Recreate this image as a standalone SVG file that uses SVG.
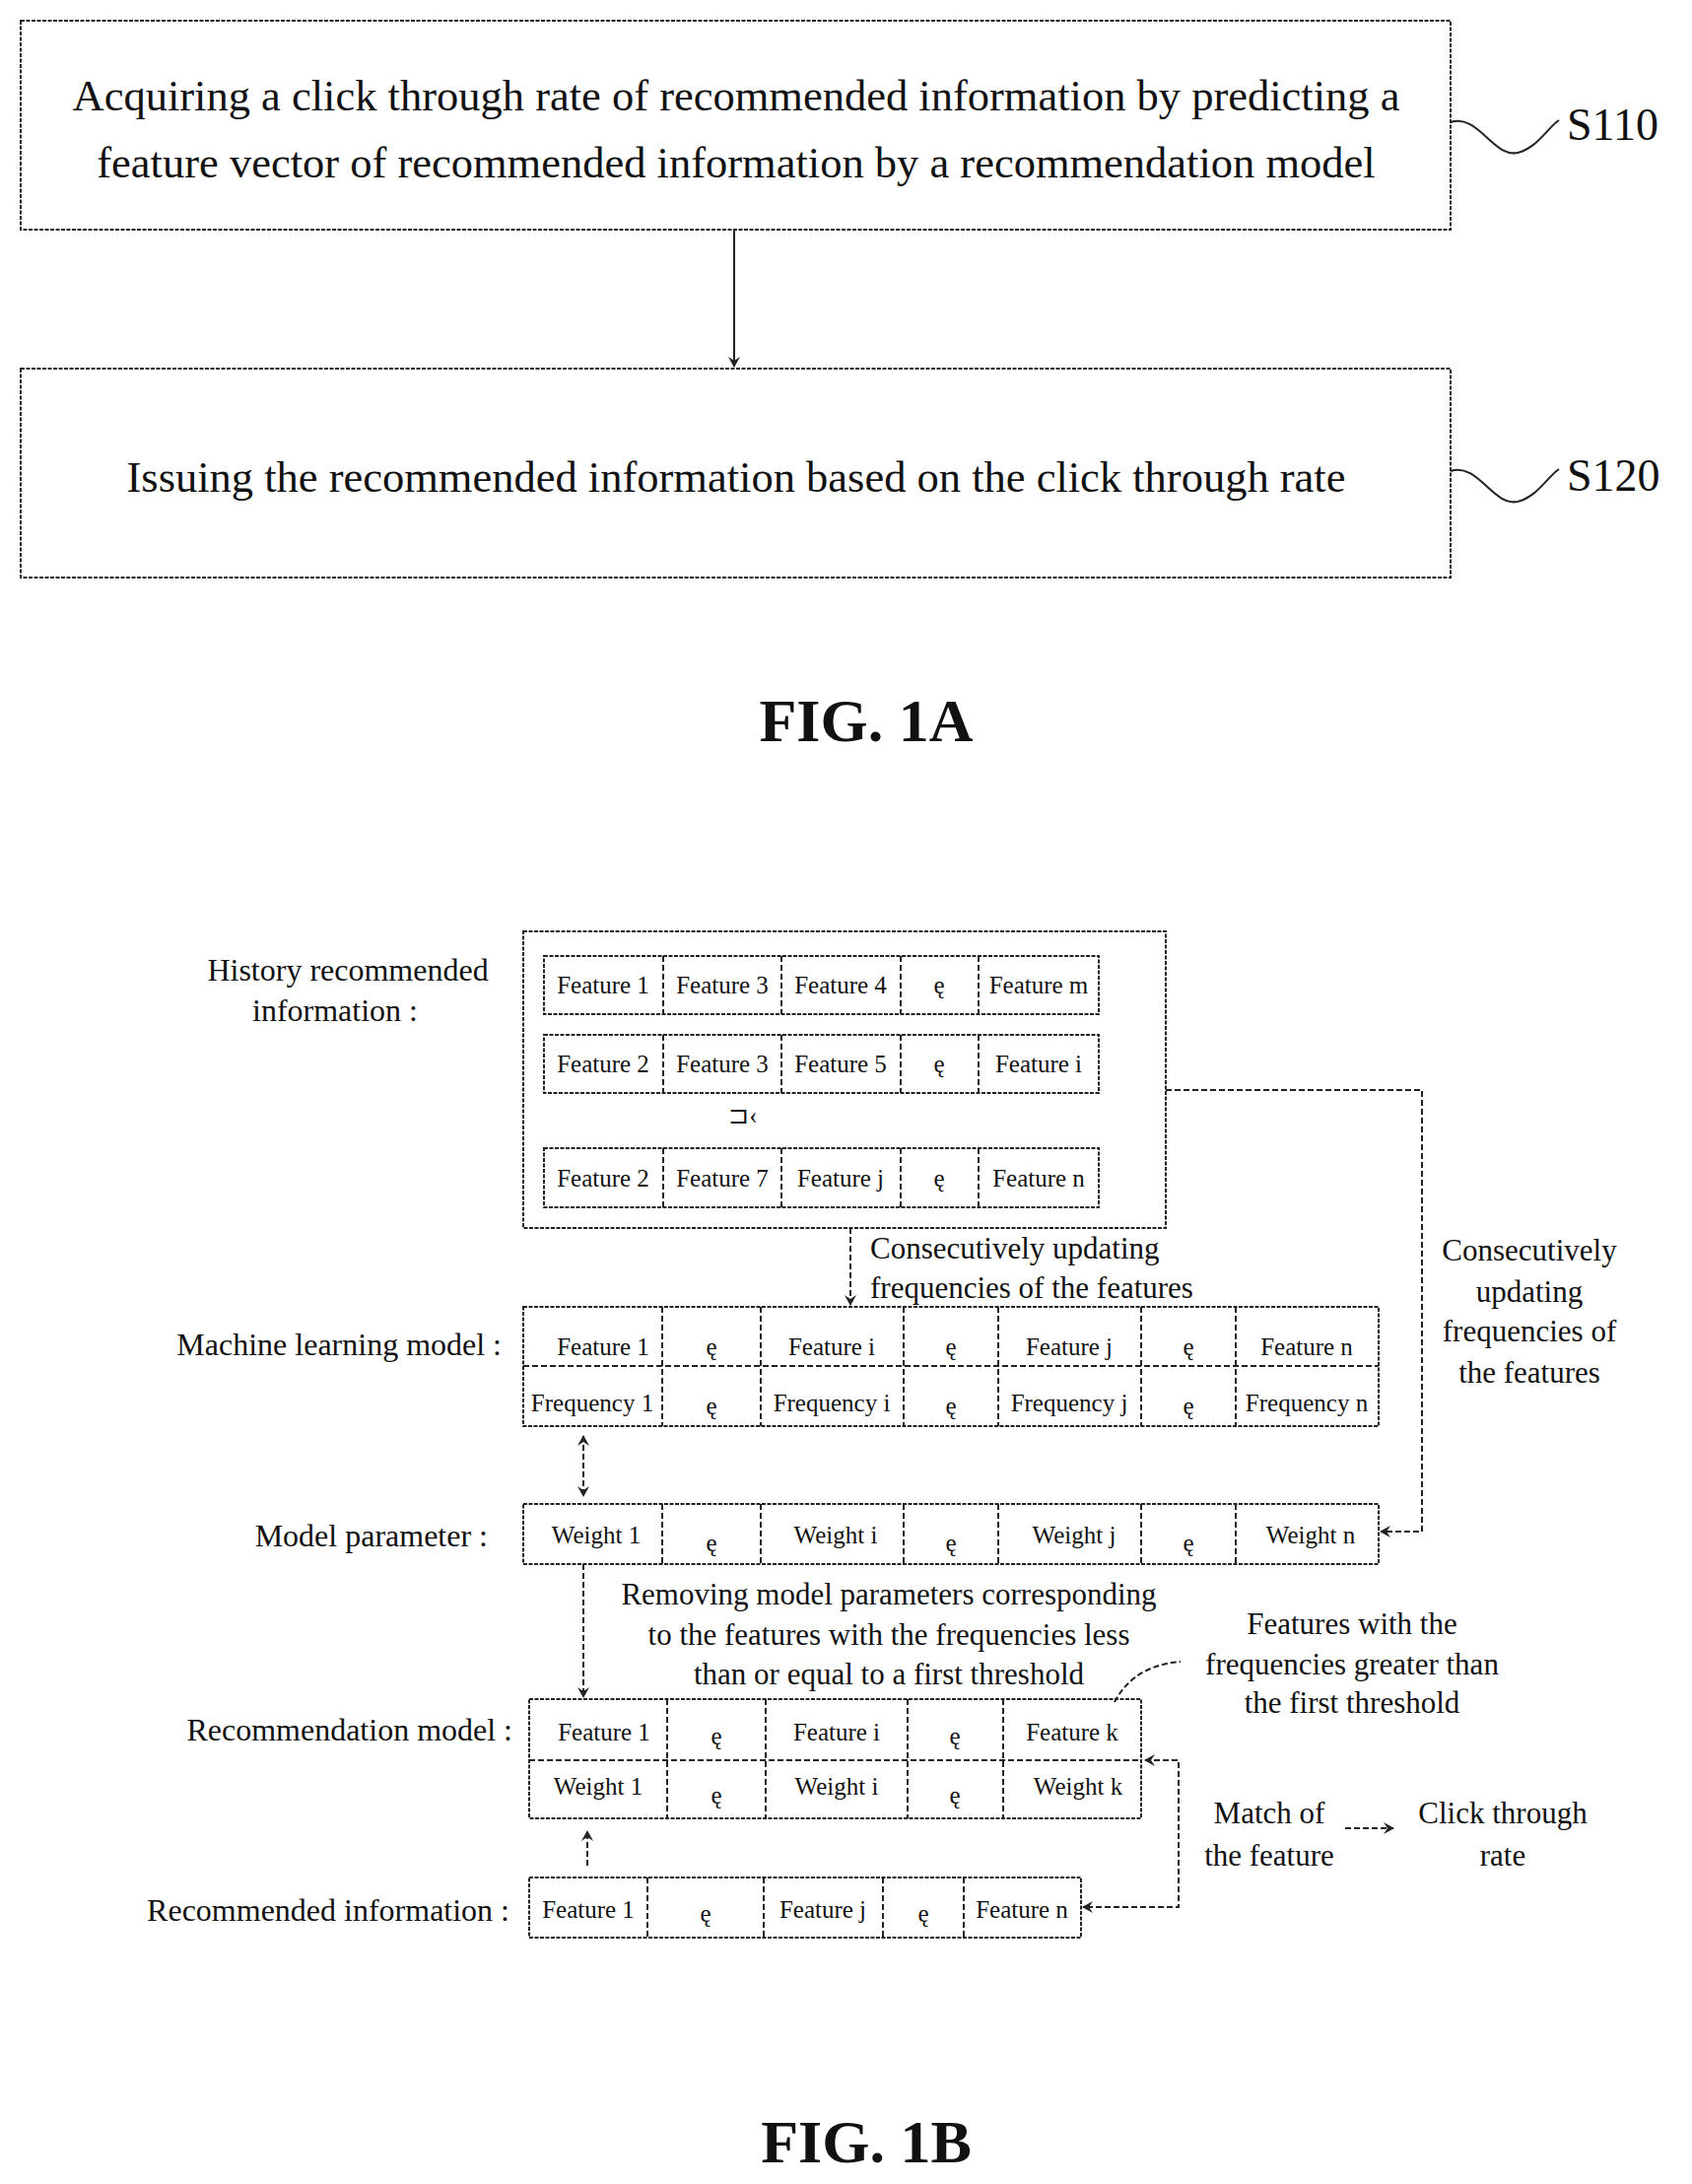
<svg xmlns="http://www.w3.org/2000/svg" width="1717" height="2216" viewBox="0 0 1717 2216">
<style>
text{font-family:"Liberation Serif","Times New Roman",serif;fill:#111}
.b{fill:#fff;stroke:#222;stroke-width:2;stroke-dasharray:4,1.5}
.l{fill:none;stroke:#222;stroke-width:2;stroke-dasharray:6,3}
.s{fill:none;stroke:#222;stroke-width:2}
.c{font-size:25px;text-anchor:middle}
.lb{font-size:32px;text-anchor:end}
.t{font-size:31px;text-anchor:middle}
.big{font-size:44.5px;text-anchor:middle}
.fig{font-size:62px;font-weight:bold;text-anchor:middle}
</style>
<defs>
<marker id="a" markerWidth="12" markerHeight="12" refX="10" refY="6" orient="auto-start-reverse" markerUnits="userSpaceOnUse"><path d="M0,0 L11,6 L0,12 L4,6 z" fill="#222"/></marker>
</defs>
<g id="s110">
<rect class="b" x="21" y="21" width="1451" height="212"/>
<text class="big" x="747" y="112">Acquiring a click through rate of recommended information by predicting a</text>
<text class="big" x="747" y="180">feature vector of recommended information by a recommendation model</text>
<path class="s" d="M1472,124 C1500,115 1515,160 1540,155 C1560,150 1570,130 1582,122"/>
<text x="1590" y="142" style="font-size:46px">S110</text>
</g>
<g id="s120">
<rect class="b" x="21" y="374" width="1451" height="212"/>
<text class="big" x="747" y="499">Issuing the recommended information based on the click through rate</text>
<path class="s" d="M1472,478 C1500,469 1515,514 1540,509 C1560,504 1570,484 1582,476"/>
<text x="1590" y="498" style="font-size:46px">S120</text>
</g>
<text class="fig" x="879" y="752">FIG. 1A</text>
<g id="history">
<text class="t" x="353" y="995" style="font-size:32px">History recommended</text>
<text class="t" x="340" y="1036" style="font-size:32px">information :</text>
<rect class="b" x="531" y="945" width="652" height="301"/>
<rect class="b" x="552" y="970" width="563" height="59"/>
<path class="l" d="M673,970V1029M793,970V1029M914,970V1029M993,970V1029"/>
<text class="c" x="612" y="1008">Feature 1</text><text class="c" x="733" y="1008">Feature 3</text><text class="c" x="853" y="1008">Feature 4</text><text class="c" x="953" y="1008">ę</text><text class="c" x="1054" y="1008">Feature m</text>
<rect class="b" x="552" y="1050" width="563" height="59"/>
<path class="l" d="M673,1050V1109M793,1050V1109M914,1050V1109M993,1050V1109"/>
<text class="c" x="612" y="1088">Feature 2</text><text class="c" x="733" y="1088">Feature 3</text><text class="c" x="853" y="1088">Feature 5</text><text class="c" x="953" y="1088">ę</text><text class="c" x="1054" y="1088">Feature i</text>
<text class="c" x="754" y="1140">⊐‹</text>
<rect class="b" x="552" y="1165" width="563" height="60"/>
<path class="l" d="M673,1165V1225M793,1165V1225M914,1165V1225M993,1165V1225"/>
<text class="c" x="612" y="1204">Feature 2</text><text class="c" x="733" y="1204">Feature 7</text><text class="c" x="853" y="1204">Feature j</text><text class="c" x="953" y="1204">ę</text><text class="c" x="1054" y="1204">Feature n</text>
</g>
<g id="ml">
<text class="lb" x="509" y="1375">Machine learning model :</text>
<rect class="b" x="531" y="1326" width="868" height="121"/>
<path class="l" d="M531,1386H1399M672,1326V1447M772,1326V1447M917,1326V1447M1013,1326V1447M1158,1326V1447M1254,1326V1447"/>
<text class="c" x="612" y="1375">Feature 1</text><text class="c" x="722" y="1375">ę</text><text class="c" x="844" y="1375">Feature i</text><text class="c" x="965" y="1375">ę</text><text class="c" x="1085" y="1375">Feature j</text><text class="c" x="1206" y="1375">ę</text><text class="c" x="1326" y="1375">Feature n</text>
<text class="c" x="601" y="1432">Frequency 1</text><text class="c" x="722" y="1435">ę</text><text class="c" x="844" y="1432">Frequency i</text><text class="c" x="965" y="1435">ę</text><text class="c" x="1085" y="1432">Frequency j</text><text class="c" x="1206" y="1435">ę</text><text class="c" x="1326" y="1432">Frequency n</text>
</g>
<g id="param">
<text class="lb" x="495" y="1569">Model parameter :</text>
<rect class="b" x="531" y="1526" width="868" height="61"/>
<path class="l" d="M672,1526V1587M772,1526V1587M917,1526V1587M1013,1526V1587M1158,1526V1587M1254,1526V1587"/>
<text class="c" x="605" y="1566">Weight 1</text><text class="c" x="722" y="1574">ę</text><text class="c" x="848" y="1566">Weight i</text><text class="c" x="965" y="1574">ę</text><text class="c" x="1090" y="1566">Weight j</text><text class="c" x="1206" y="1574">ę</text><text class="c" x="1330" y="1566">Weight n</text>
</g>
<g id="recmodel">
<text class="lb" x="520" y="1766">Recommendation model :</text>
<rect class="b" x="537" y="1724" width="621" height="121"/>
<path class="l" d="M537,1786H1158M677,1724V1845M777,1724V1845M921,1724V1845M1018,1724V1845"/>
<text class="c" x="613" y="1766">Feature 1</text><text class="c" x="727" y="1770">ę</text><text class="c" x="849" y="1766">Feature i</text><text class="c" x="969" y="1770">ę</text><text class="c" x="1088" y="1766">Feature k</text>
<text class="c" x="607" y="1821">Weight 1</text><text class="c" x="727" y="1830">ę</text><text class="c" x="849" y="1821">Weight i</text><text class="c" x="969" y="1830">ę</text><text class="c" x="1094" y="1821">Weight k</text>
</g>
<g id="recinfo">
<text class="lb" x="517" y="1949">Recommended information :</text>
<rect class="b" x="537" y="1905" width="560" height="61"/>
<path class="l" d="M657,1905V1966M775,1905V1966M896,1905V1966M978,1905V1966"/>
<text class="c" x="597" y="1946">Feature 1</text><text class="c" x="716" y="1950">ę</text><text class="c" x="835" y="1946">Feature j</text><text class="c" x="937" y="1950">ę</text><text class="c" x="1037" y="1946">Feature n</text>
</g>
<g id="labels">
<text class="t" x="883" y="1277" style="text-anchor:start">Consecutively updating</text>
<text class="t" x="883" y="1317" style="text-anchor:start">frequencies of the features</text>
<text class="t" x="1552" y="1279">Consecutively</text>
<text class="t" x="1552" y="1321">updating</text>
<text class="t" x="1552" y="1361">frequencies of</text>
<text class="t" x="1552" y="1403">the features</text>
<text class="t" x="902" y="1628">Removing model parameters corresponding</text>
<text class="t" x="902" y="1669">to the features with the frequencies less</text>
<text class="t" x="902" y="1709">than or equal to a first threshold</text>
<text class="t" x="1372" y="1658">Features with the</text>
<text class="t" x="1372" y="1699">frequencies greater than</text>
<text class="t" x="1372" y="1738">the first threshold</text>
<text class="t" x="1288" y="1850">Match of</text>
<text class="t" x="1288" y="1893">the feature</text>
<text class="t" x="1525" y="1850">Click through</text>
<text class="t" x="1525" y="1893">rate</text>
</g>
<g id="connectors">
<path class="s" d="M745,233V372" marker-end="url(#a)"/>
<path class="l" d="M863,1246V1324" marker-end="url(#a)"/>
<path class="l" d="M1183,1106H1443V1554H1401" marker-end="url(#a)"/>
<path class="l" d="M592,1457V1518" marker-start="url(#a)" marker-end="url(#a)"/>
<path class="l" d="M592,1587V1722" marker-end="url(#a)"/>
<path class="l" d="M596,1893V1858" marker-end="url(#a)"/>
<path class="l" d="M1162,1786H1196V1935H1099" marker-start="url(#a)" marker-end="url(#a)"/>
<path class="l" d="M1131,1727 C1145,1700 1170,1688 1198,1686"/>
<path class="l" d="M1365,1855H1414" marker-end="url(#a)"/>
</g>
<text class="fig" x="879" y="2194">FIG. 1B</text>
</svg>
